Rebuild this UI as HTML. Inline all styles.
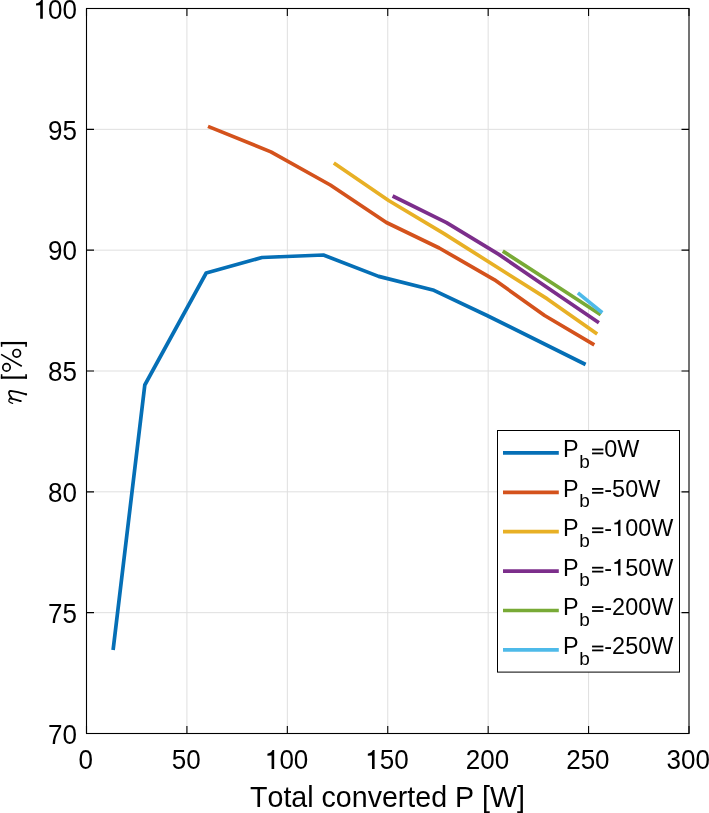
<!DOCTYPE html>
<html>
<head>
<meta charset="utf-8">
<style>
html,body{margin:0;padding:0;background:#fff;width:709px;height:813px;overflow:hidden;}
svg{display:block;will-change:transform;}
text{font-family:"Liberation Sans", sans-serif;fill:#000;font-kerning:none;}
</style>
</head>
<body>
<svg width="709" height="813" viewBox="0 0 709 813">
<rect x="0" y="0" width="709" height="813" fill="#fff"/>
<path d="M186.92,8.5V733.5M287.33,8.5V733.5M387.75,8.5V733.5M488.17,8.5V733.5M588.58,8.5V733.5M86.5,612.67H689.0M86.5,491.83H689.0M86.5,371.00H689.0M86.5,250.17H689.0M86.5,129.33H689.0" stroke="#dfdfdf" stroke-width="1" fill="none"/>
<g fill="none" stroke-width="3.7" stroke-linejoin="round" stroke-linecap="butt">
<polyline stroke="#056FB6" points="113.1,650 144.8,385 206.2,273 262,257.5 323.4,255 378.6,276.4 433.9,290.3 487,315.5 585.6,364.5"/>
<polyline stroke="#D4521C" points="208,126.4 270.9,151.9 330.3,185 386.4,222.5 439.2,248 494.5,279.8 544.6,315.5 594.3,344.8"/>
<polyline stroke="#E8B025" points="333.8,163 388.6,200.5 444,233.6 496,266.5 547.3,298.9 597.2,334.1"/>
<polyline stroke="#7C2E8B" points="392.6,196 446.5,222.6 498.8,254.4 549,288.7 598.9,322.7"/>
<polyline stroke="#78AA36" points="502.8,251.1 552,283 600.7,314.8"/>
<polyline stroke="#4EBAE9" points="577.9,292.9 602.3,312.7"/>
</g>
<g stroke="#000" stroke-width="1.1" fill="none">
<rect x="86.5" y="8.5" width="602.5" height="725.0"/>
<path d="M86.50,733.5v-7.5M86.50,8.5v7.5M186.92,733.5v-7.5M186.92,8.5v7.5M287.33,733.5v-7.5M287.33,8.5v7.5M387.75,733.5v-7.5M387.75,8.5v7.5M488.17,733.5v-7.5M488.17,8.5v7.5M588.58,733.5v-7.5M588.58,8.5v7.5M689.00,733.5v-7.5M689.00,8.5v7.5M86.5,733.50h7.5M689.0,733.50h-7.5M86.5,612.67h7.5M689.0,612.67h-7.5M86.5,491.83h7.5M689.0,491.83h-7.5M86.5,371.00h7.5M689.0,371.00h-7.5M86.5,250.17h7.5M689.0,250.17h-7.5M86.5,129.33h7.5M689.0,129.33h-7.5M86.5,8.50h7.5M689.0,8.50h-7.5"/>
</g>
<g font-size="26" fill="#000">
<g transform="matrix(1,0,0,1.03,0,-23.067)"><text x="78.57" y="768.90">0</text></g>
<g transform="matrix(1,0,0,1.03,0,-23.067)"><text x="171.76" y="768.90">50</text></g>
<g transform="matrix(1,0,0,1.03,0,-23.067)"><path d="M255,0L356,0L356,703L290,703C272,650 218,585 95,568L95,494L255,505Z" transform="translate(264.94,768.90) scale(0.0260,-0.0260)"/>
<text x="279.40" y="768.90">00</text></g>
<g transform="matrix(1,0,0,1.03,0,-23.067)"><path d="M255,0L356,0L356,703L290,703C272,650 218,585 95,568L95,494L255,505Z" transform="translate(365.36,768.90) scale(0.0260,-0.0260)"/>
<text x="379.82" y="768.90">50</text></g>
<g transform="matrix(1,0,0,1.03,0,-23.067)"><text x="465.78" y="768.90">200</text></g>
<g transform="matrix(1,0,0,1.03,0,-23.067)"><text x="566.19" y="768.90">250</text></g>
<g transform="matrix(1,0,0,1.03,0,-23.067)"><text x="666.61" y="768.90">300</text></g>
<g transform="matrix(1,0,0,1.03,0,-22.311)"><text x="48.03" y="743.70">70</text></g>
<g transform="matrix(1,0,0,1.03,0,-18.686)"><text x="48.03" y="622.87">75</text></g>
<g transform="matrix(1,0,0,1.03,0,-15.061)"><text x="48.03" y="502.03">80</text></g>
<g transform="matrix(1,0,0,1.03,0,-11.436)"><text x="48.03" y="381.20">85</text></g>
<g transform="matrix(1,0,0,1.03,0,-7.811)"><text x="48.03" y="260.37">90</text></g>
<g transform="matrix(1,0,0,1.03,0,-4.186)"><text x="48.03" y="139.53">95</text></g>
<g transform="matrix(1,0,0,1.03,0,-0.561)"><path d="M255,0L356,0L356,703L290,703C272,650 218,585 95,568L95,494L255,505Z" transform="translate(33.57,18.70) scale(0.0260,-0.0260)"/>
<text x="48.03" y="18.70">00</text></g>
</g>
<text x="387.5" y="806.5" font-size="28.6" text-anchor="middle">Total converted P [W]</text>
<g fill="#000">
<rect x="0.85" y="341.96" width="26.05" height="2.24"/><rect x="0.85" y="341.96" width="1.5" height="4.84"/><rect x="25.3" y="341.96" width="1.6" height="4.84"/>
<rect x="0.85" y="376.46" width="26.05" height="2.24"/><rect x="0.85" y="374.2" width="1.5" height="4.5"/><rect x="25.3" y="374.2" width="1.6" height="4.5"/>
</g>
<g fill="none" stroke="#000">
<circle cx="16.7" cy="353.3" r="3.8" stroke-width="1.7"/>
<circle cx="6.5" cy="367.4" r="3.7" stroke-width="1.7"/>
<path d="M1.1,354.4L21.8,366.3" stroke-width="1.6"/>
</g>
<g fill="none" stroke="#000" stroke-linecap="round" stroke-linejoin="round">
<path d="M26.2,394.4 Q17.5,391.6 10.6,390.9 Q8.8,391.1 9.0,393.4 Q9.4,395.9 11.6,397.7" stroke-width="1.7"/>
<path d="M20.6,401.1 Q14,399 9.9,398.4" stroke-width="1.8"/>
<path d="M10,398.5 Q8.5,399.5 8.9,401.4 Q9.9,402.8 12.6,403.3" stroke-width="1.25"/>
<circle cx="26.0" cy="394.3" r="1.15" fill="#000" stroke="none"/>
<circle cx="20.5" cy="401.0" r="1.1" fill="#000" stroke="none"/>
</g>
<rect x="497.5" y="430.5" width="182" height="241.6" fill="#fff" stroke="#000" stroke-width="1"/>
<g stroke-width="3.7" fill="none">
<path stroke="#056FB6" d="M503,452.90H558.8"/>
<path stroke="#D4521C" d="M503,492.30H558.8"/>
<path stroke="#E8B025" d="M503,531.70H558.8"/>
<path stroke="#7C2E8B" d="M503,571.10H558.8"/>
<path stroke="#78AA36" d="M503,610.50H558.8"/>
<path stroke="#4EBAE9" d="M503,649.90H558.8"/>
</g>
<g font-size="23.4" fill="#000">
<text x="562.90" y="457.30">P</text>
<text x="579.31" y="468.00" font-size="19">b</text>
<rect x="592.07" y="448.60" width="11.3" height="1.8"/><rect x="592.07" y="452.50" width="11.3" height="1.8"/>
<text x="604.34" y="457.30">0W</text>
<text x="562.90" y="496.70">P</text>
<text x="579.31" y="507.40" font-size="19">b</text>
<rect x="592.07" y="488.00" width="11.3" height="1.8"/><rect x="592.07" y="491.90" width="11.3" height="1.8"/>
<text x="604.34" y="496.70">-50W</text>
<text x="562.90" y="536.10">P</text>
<text x="579.31" y="546.80" font-size="19">b</text>
<rect x="592.07" y="527.40" width="11.3" height="1.8"/><rect x="592.07" y="531.30" width="11.3" height="1.8"/>
<text x="604.34" y="536.10">-</text>
<path d="M255,0L356,0L356,703L290,703C272,650 218,585 95,568L95,494L255,505Z" transform="translate(612.13,536.10) scale(0.0234,-0.0234)"/>
<text x="625.15" y="536.10">00W</text>
<text x="562.90" y="575.50">P</text>
<text x="579.31" y="586.20" font-size="19">b</text>
<rect x="592.07" y="566.80" width="11.3" height="1.8"/><rect x="592.07" y="570.70" width="11.3" height="1.8"/>
<text x="604.34" y="575.50">-</text>
<path d="M255,0L356,0L356,703L290,703C272,650 218,585 95,568L95,494L255,505Z" transform="translate(612.13,575.50) scale(0.0234,-0.0234)"/>
<text x="625.15" y="575.50">50W</text>
<text x="562.90" y="614.90">P</text>
<text x="579.31" y="625.60" font-size="19">b</text>
<rect x="592.07" y="606.20" width="11.3" height="1.8"/><rect x="592.07" y="610.10" width="11.3" height="1.8"/>
<text x="604.34" y="614.90">-200W</text>
<text x="562.90" y="654.30">P</text>
<text x="579.31" y="665.00" font-size="19">b</text>
<rect x="592.07" y="645.60" width="11.3" height="1.8"/><rect x="592.07" y="649.50" width="11.3" height="1.8"/>
<text x="604.34" y="654.30">-250W</text>
</g>
</svg>
</body>
</html>
